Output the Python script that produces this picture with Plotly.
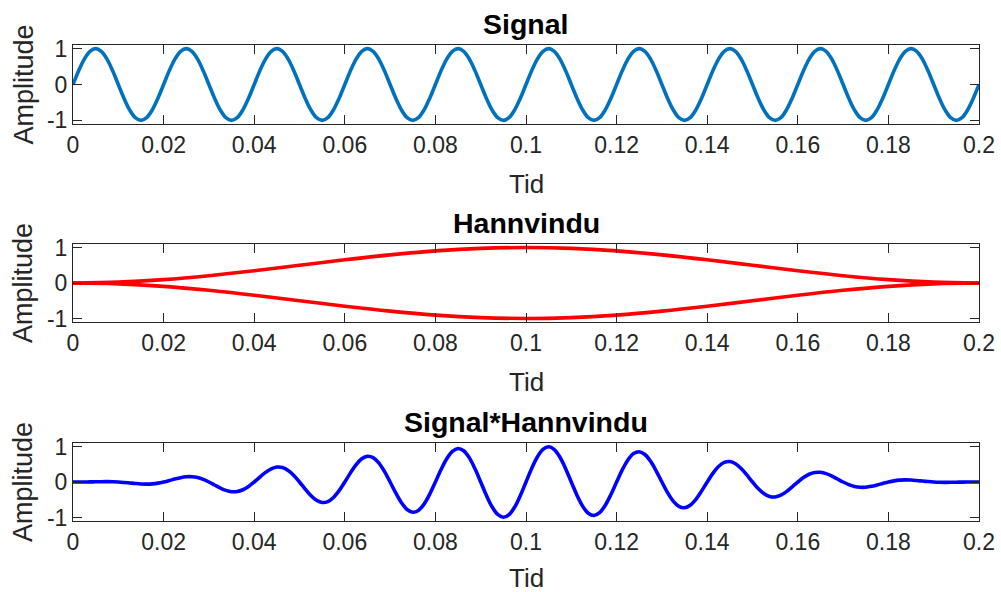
import plotly.graph_objects as go

# ---- data ----
t_fine = [round(0.00125 * i, 5) for i in range(161)]
t_hann = [round(0.01 * i, 2) for i in range(21)]

signal = [
    0, 0.383, 0.707, 0.924, 1, 0.924, 0.707, 0.383, 0, -0.383, -0.707, -0.924, -1, -0.924, -0.707, -0.383,
    0, 0.383, 0.707, 0.924, 1, 0.924, 0.707, 0.383, 0, -0.383, -0.707, -0.924, -1, -0.924, -0.707, -0.383,
    0, 0.383, 0.707, 0.924, 1, 0.924, 0.707, 0.383, 0, -0.383, -0.707, -0.924, -1, -0.924, -0.707, -0.383,
    0, 0.383, 0.707, 0.924, 1, 0.924, 0.707, 0.383, 0, -0.383, -0.707, -0.924, -1, -0.924, -0.707, -0.383,
    0, 0.383, 0.707, 0.924, 1, 0.924, 0.707, 0.383, 0, -0.383, -0.707, -0.924, -1, -0.924, -0.707, -0.383,
    0, 0.383, 0.707, 0.924, 1, 0.924, 0.707, 0.383, 0, -0.383, -0.707, -0.924, -1, -0.924, -0.707, -0.383,
    0, 0.383, 0.707, 0.924, 1, 0.924, 0.707, 0.383, 0, -0.383, -0.707, -0.924, -1, -0.924, -0.707, -0.383,
    0, 0.383, 0.707, 0.924, 1, 0.924, 0.707, 0.383, 0, -0.383, -0.707, -0.924, -1, -0.924, -0.707, -0.383,
    0, 0.383, 0.707, 0.924, 1, 0.924, 0.707, 0.383, 0, -0.383, -0.707, -0.924, -1, -0.924, -0.707, -0.383,
    0, 0.383, 0.707, 0.924, 1, 0.924, 0.707, 0.383, 0, -0.383, -0.707, -0.924, -1, -0.924, -0.707, -0.383,
    0]

hann = [0, 0.024, 0.095, 0.206, 0.345, 0.5, 0.655, 0.794, 0.905, 0.976, 1,
        0.976, 0.905, 0.794, 0.655, 0.5, 0.345, 0.206, 0.095, 0.024, 0]
hann_neg = [-0, -0.024, -0.095, -0.206, -0.345, -0.5, -0.655, -0.794, -0.905, -0.976, -1,
            -0.976, -0.905, -0.794, -0.655, -0.5, -0.345, -0.206, -0.095, -0.024, -0]

product = [
    0, 0.0001, 0.0011, 0.0032, 0.0062, 0.0089, 0.0098, 0.0072,
    0, -0.0118, -0.0269, -0.0424, -0.0545, -0.0589, -0.0521, -0.0322,
    0, 0.0411, 0.0847, 0.1227, 0.1464, 0.1484, 0.1239, 0.0729,
    0, -0.0850, -0.1688, -0.2362, -0.2730, -0.2685, -0.2183, -0.1251,
    0, 0.1394, 0.2710, 0.3718, 0.4218, 0.4077, 0.3258, 0.1838,
    0, -0.1989, -0.3813, -0.5162, -0.5782, -0.5521, -0.4361, -0.2433,
    0, 0.2576, 0.4889, 0.6553, 0.7270, 0.6877, 0.5383, 0.2977,
    0, -0.3098, -0.5832, -0.7755, -0.8536, -0.8012, -0.6224, -0.3416,
    0, 0.3505, 0.6550, 0.8650, 0.9455, 0.8815, 0.6802, 0.3709,
    0, -0.3755, -0.6973, -0.9150, -0.9938, -0.9207, -0.7060, -0.3826,
    0, 0.3826, 0.7060, 0.9207, 0.9938, 0.9150, 0.6973, 0.3755,
    0, -0.3709, -0.6802, -0.8815, -0.9455, -0.8650, -0.6550, -0.3505,
    0, 0.3416, 0.6224, 0.8012, 0.8536, 0.7755, 0.5832, 0.3098,
    0, -0.2977, -0.5383, -0.6877, -0.7270, -0.6553, -0.4889, -0.2576,
    0, 0.2433, 0.4361, 0.5521, 0.5782, 0.5162, 0.3813, 0.1989,
    0, -0.1838, -0.3258, -0.4077, -0.4218, -0.3718, -0.2710, -0.1394,
    0, 0.1251, 0.2183, 0.2685, 0.2730, 0.2362, 0.1688, 0.0850,
    0, -0.0729, -0.1239, -0.1484, -0.1464, -0.1227, -0.0847, -0.0411,
    0, 0.0322, 0.0521, 0.0589, 0.0545, 0.0424, 0.0269, 0.0118,
    0, -0.0072, -0.0098, -0.0089, -0.0062, -0.0032, -0.0011, -0.0001,
    0]

x_tick_vals = [0, 0.02, 0.04, 0.06, 0.08, 0.1, 0.12, 0.14, 0.16, 0.18, 0.2]
x_tick_text = ["0", "0.02", "0.04", "0.06", "0.08", "0.1", "0.12", "0.14", "0.16", "0.18", "0.2"]
y_tick_vals = [-1, 0, 1]
y_tick_text = ["-1", "0", "1"]
titles = ["Signal", "Hannvindu", "Signal*Hannvindu"]

# ---- figure ----
W, H = 1001, 592
FONT = "Liberation Sans, Arial, sans-serif"
AX = "#262626"

x0, x1 = 73, 979
panels = [(45, 124), (244, 322), (443, 521)]
tid_offsets = [60, 60, 57]

fig = go.Figure()
line_w = 3.6
spl = dict(shape="spline", smoothing=1)
fig.add_trace(go.Scatter(x=t_fine, y=signal, mode="lines",
                         line=dict(color="#0072BD", width=line_w, **spl),
                         xaxis="x", yaxis="y", showlegend=False))
fig.add_trace(go.Scatter(x=t_hann, y=hann, mode="lines",
                         line=dict(color="#FF0000", width=line_w, **spl),
                         xaxis="x2", yaxis="y2", showlegend=False))
fig.add_trace(go.Scatter(x=t_hann, y=hann_neg, mode="lines",
                         line=dict(color="#FF0000", width=line_w, **spl),
                         xaxis="x2", yaxis="y2", showlegend=False))
fig.add_trace(go.Scatter(x=t_fine, y=product, mode="lines",
                         line=dict(color="#0000FF", width=line_w, **spl),
                         xaxis="x3", yaxis="y3", showlegend=False))

layout = dict(width=W, height=H, margin=dict(l=0, r=0, t=0, b=0, autoexpand=False),
              paper_bgcolor="white", plot_bgcolor="white",
              font=dict(family=FONT, color=AX), annotations=[])

for i, (top, bot) in enumerate(panels):
    sfx = "" if i == 0 else str(i + 1)
    common = dict(ticks="inside", ticklen=9, tickwidth=1, tickcolor=AX,
                  showline=True, linecolor=AX, linewidth=1, mirror="ticks",
                  showgrid=False, zeroline=False, automargin=False,
                  tickfont=dict(size=23, color=AX, family=FONT))
    xa = dict(domain=[x0 / W, x1 / W], range=[0, 0.2], anchor="y" + sfx,
              tickvals=x_tick_vals, ticktext=x_tick_text, **common)
    ya = dict(domain=[1 - bot / H, 1 - top / H], range=[-1.1, 1.1], anchor="x" + sfx,
              tickvals=y_tick_vals, ticktext=y_tick_text, **common)
    layout["xaxis" + sfx] = xa
    layout["yaxis" + sfx] = ya
    # title
    layout["annotations"].append(dict(text="<b>" + titles[i] + "</b>", xref="paper", yref="paper",
                                      x=(x0 + x1) / 2 / W, y=1 - (top - 21) / H,
                                      xanchor="center", yanchor="middle", showarrow=False,
                                      font=dict(size=28.5, color="black", family=FONT)))
    # x label
    layout["annotations"].append(dict(text="Tid", xref="paper", yref="paper",
                                      x=(x0 + x1) / 2 / W, y=1 - (bot + tid_offsets[i]) / H,
                                      xanchor="center", yanchor="middle", showarrow=False,
                                      font=dict(size=26, color=AX, family=FONT)))
    # y label
    layout["annotations"].append(dict(text="Amplitude", xref="paper", yref="paper",
                                      x=23 / W, y=1 - (top + bot) / 2 / H,
                                      xanchor="center", yanchor="middle", textangle=-90,
                                      showarrow=False,
                                      font=dict(size=27, color=AX, family=FONT)))

fig.update_layout(**layout)
fig.write_html("out.html")
